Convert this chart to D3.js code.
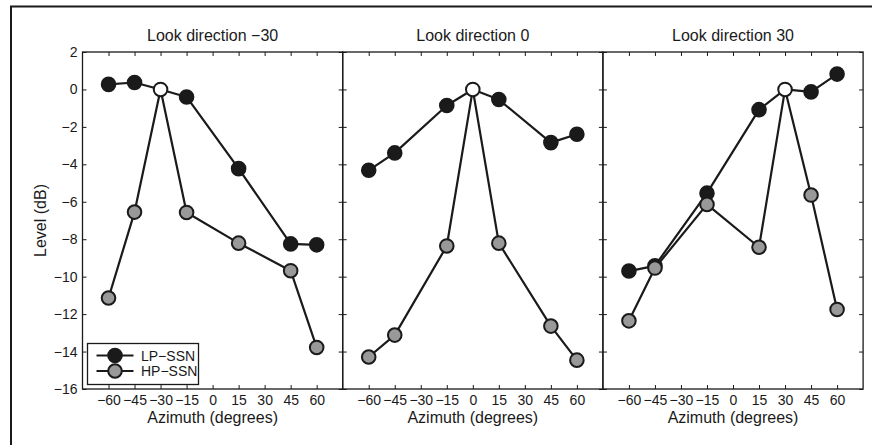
<!DOCTYPE html>
<html>
<head>
<meta charset="utf-8">
<script src="https://cdn.jsdelivr.net/npm/d3@7"></script>
<style>
  html, body { margin: 0; padding: 0; background: #fff; }
  svg { display: block; }
  text { font-family: "Liberation Sans", Arial, Helvetica, sans-serif; fill: #1a1a1a; }
</style>
</head>
<body>
<svg id="chart" width="872" height="445"></svg>
<script>
// Measured source azimuths (degrees); the look direction itself is the 0 dB reference.
const sourceAzimuths = [-60, -45, -15, 15, 45, 60];
const lookDirections = [-30, 0, 30];
const panelTitles = ["Look direction \u221230", "Look direction 0", "Look direction 30"];
const seriesNames = ["LP\u2212SSN", "HP\u2212SSN"];

// Level (dB) per look direction, one row per panel, columns follow sourceAzimuths.
const lpSSN = [
  [0.27, 0.37, -0.40, -4.23, -8.25, -8.30],
  [-4.32, -3.39, -0.86, -0.54, -2.84, -2.39],
  [-9.70, -9.42, -5.54, -1.08, -0.13, 0.82]
];
const hpSSN = [
  [-11.14, -6.55, -6.57, -8.21, -9.68, -13.78],
  [-14.29, -13.12, -8.36, -8.21, -12.64, -14.46],
  [-12.36, -9.54, -6.14, -8.43, -5.64, -11.75]
];
const referenceLevel = 0;

const xTicks = [-60, -45, -30, -15, 0, 15, 30, 45, 60];
const yTicks = [-16, -14, -12, -10, -8, -6, -4, -2, 0, 2];

const svg = d3.select("#chart");
const ink = "#1a1a1a";
const gray = "#999999";

// Outer frame (top and left edges)
svg.append("path")
  .attr("d", "M10,6.5H872M11,6.5V445")
  .attr("fill", "none").attr("stroke", ink).attr("stroke-width", 2);

const plotLeft = 82.5, panelW = 260.2, plotTop = 52, plotBottom = 389;
const y = d3.scaleLinear().domain([-16, 2]).range([plotBottom, plotTop]);
const fmt = d3.format("d");

const seriesStyle = [
  { data: lpSSN, fill: ink },
  { data: hpSSN, fill: gray }
];

lookDirections.forEach((look, p) => {
  const x0 = plotLeft + p * panelW;
  const x = d3.scaleLinear().domain([-75, 75]).range([x0, x0 + panelW]);
  const g = svg.append("g");

  // inward ticks on all four sides
  g.append("g").attr("transform", `translate(0,${plotBottom})`)
    .call(d3.axisBottom(x).tickValues(xTicks).tickSizeInner(-4).tickSizeOuter(0).tickPadding(6).tickFormat(fmt))
    .call(a => a.select(".domain").remove())
    .call(a => a.selectAll("line").attr("stroke", ink))
    .call(a => a.selectAll("text").attr("font-size", 14).attr("fill", ink).style("font-family", null));
  g.append("g").attr("transform", `translate(0,${plotTop})`)
    .call(d3.axisTop(x).tickValues(xTicks).tickSizeInner(-4).tickSizeOuter(0).tickFormat(""))
    .call(a => a.select(".domain").remove())
    .call(a => a.selectAll("line").attr("stroke", ink));
  g.append("g").attr("transform", `translate(${x0},0)`)
    .call(d3.axisLeft(y).tickValues(yTicks).tickSizeInner(-4).tickSizeOuter(0).tickPadding(5)
      .tickFormat(p === 0 ? fmt : ""))
    .call(a => a.select(".domain").remove())
    .call(a => a.selectAll("line").attr("stroke", ink))
    .call(a => a.selectAll("text").attr("font-size", 14).attr("fill", ink).style("font-family", null));
  g.append("g").attr("transform", `translate(${x0 + panelW},0)`)
    .call(d3.axisRight(y).tickValues(yTicks).tickSizeInner(-4).tickSizeOuter(0).tickFormat(""))
    .call(a => a.select(".domain").remove())
    .call(a => a.selectAll("line").attr("stroke", ink));

  g.append("rect")
    .attr("x", x0).attr("y", plotTop).attr("width", panelW).attr("height", plotBottom - plotTop)
    .attr("fill", "none").attr("stroke", ink).attr("stroke-width", 1.3);

  g.append("text")
    .attr("x", x0 + panelW / 2).attr("y", 41)
    .attr("text-anchor", "middle").attr("font-size", 16)
    .text(panelTitles[p]);

  g.append("text")
    .attr("x", x0 + panelW / 2).attr("y", 423)
    .attr("text-anchor", "middle").attr("font-size", 16)
    .text("Azimuth (degrees)");

  const line = d3.line().x(d => x(d.az)).y(d => y(d.v));

  seriesStyle.forEach(s => {
    const pts = sourceAzimuths.map((az, i) => ({ az, v: s.data[p][i] }));
    pts.push({ az: look, v: referenceLevel, ref: true });
    pts.sort((a, b) => a.az - b.az);
    g.append("path").datum(pts)
      .attr("d", line).attr("fill", "none")
      .attr("stroke", ink).attr("stroke-width", 2.2).attr("stroke-linejoin", "round");
    g.selectAll(null).data(pts.filter(d => !d.ref)).join("circle")
      .attr("cx", d => x(d.az)).attr("cy", d => y(d.v)).attr("r", 6.8)
      .attr("fill", s.fill).attr("stroke", ink).attr("stroke-width", 2);
  });

  // look-direction reference point
  g.append("circle")
    .attr("cx", x(look)).attr("cy", y(referenceLevel)).attr("r", 6.8)
    .attr("fill", "#fff").attr("stroke", ink).attr("stroke-width", 2);
});

// y-axis title
svg.append("text")
  .attr("transform", `translate(46,${(plotTop + plotBottom) / 2}) rotate(-90)`)
  .attr("text-anchor", "middle").attr("font-size", 16)
  .text("Level (dB)");

// legend
const lg = svg.append("g");
lg.append("rect").attr("x", 87.5).attr("y", 343.5).attr("width", 111).attr("height", 41)
  .attr("fill", "#fff").attr("stroke", ink).attr("stroke-width", 1.3);
seriesNames.forEach((name, i) => {
  const cy = 355.5 + i * 15.5;
  lg.append("line").attr("x1", 96.5).attr("x2", 133.5).attr("y1", cy).attr("y2", cy)
    .attr("stroke", ink).attr("stroke-width", 2.2);
  lg.append("circle").attr("cx", 115).attr("cy", cy).attr("r", 6.8)
    .attr("fill", seriesStyle[i].fill).attr("stroke", ink).attr("stroke-width", 2);
  lg.append("text").attr("x", 141).attr("y", cy).attr("dy", "0.36em")
    .attr("font-size", 14).text(name);
});
</script>
</body>
</html>
